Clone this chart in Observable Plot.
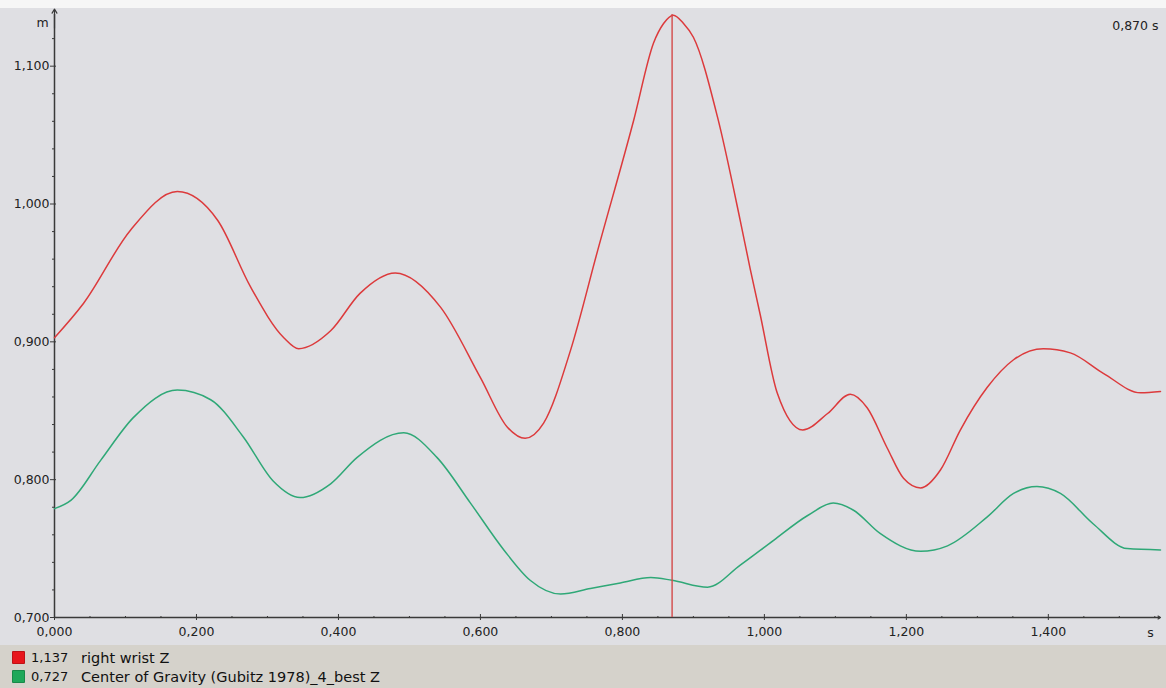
<!DOCTYPE html>
<html>
<head>
<meta charset="utf-8">
<script src="https://cdn.jsdelivr.net/npm/d3@7"></script>
<script src="https://cdn.jsdelivr.net/npm/@observablehq/plot@0.6"></script>
<style>
  html, body { margin: 0; padding: 0; background: #f4f4f4; }
  body { width: 1166px; height: 688px; overflow: hidden; font-family: "DejaVu Sans", sans-serif; }
  #top { height: 8px; background: #f6f6f6; }
  #chart svg { display: block; }
  #legend { height: 43px; background: #d5d2cb; font-family: "DejaVu Sans", sans-serif; color: #111; padding-top: 3px; box-sizing: border-box; }
  .row { height: 19px; display: flex; align-items: center; }
  .sw { width: 13px; height: 13px; margin-left: 12px; margin-right: 6px; border-radius: 1px; box-sizing: border-box; border: 1px solid rgba(0,0,0,0.18); }
  .val { width: 50px; font-size: 13px; }
  .lab { font-size: 14.5px; }
</style>
</head>
<body>
<div id="top"></div>
<div id="chart"></div>
<div id="legend"></div>
<script>
// ---- data ----
const redT = [0, 0.041, 0.107, 0.173, 0.230, 0.276, 0.323, 0.344, 0.389, 0.430, 0.480, 0.544, 0.600, 0.638, 0.663, 0.689, 0.727, 0.765, 0.816, 0.844, 0.858, 0.872, 0.886, 0.900, 0.934, 0.966, 0.980, 0.994, 1.018, 1.054, 1.089, 1.121, 1.145, 1.173, 1.196, 1.220, 1.248, 1.276, 1.314, 1.351, 1.393, 1.431, 1.478, 1.530, 1.558];
const redV = [0.903, 0.928, 0.981, 1.009, 0.988, 0.940, 0.903, 0.895, 0.908, 0.935, 0.950, 0.925, 0.874, 0.838, 0.830, 0.841, 0.894, 0.966, 1.061, 1.117, 1.131, 1.137, 1.131, 1.121, 1.063, 0.988, 0.953, 0.920, 0.863, 0.836, 0.848, 0.862, 0.852, 0.823, 0.801, 0.794, 0.807, 0.836, 0.867, 0.887, 0.895, 0.892, 0.877, 0.863, 0.864];

const greenT = [0, 0.023, 0.065, 0.111, 0.173, 0.220, 0.266, 0.308, 0.346, 0.389, 0.426, 0.492, 0.539, 0.586, 0.633, 0.670, 0.713, 0.755, 0.797, 0.840, 0.870, 0.920, 0.966, 1.013, 1.061, 1.097, 1.125, 1.163, 1.220, 1.258, 1.314, 1.351, 1.384, 1.417, 1.463, 1.511, 1.558];
const greenV = [0.779, 0.785, 0.814, 0.845, 0.865, 0.858, 0.831, 0.799, 0.787, 0.797, 0.816, 0.834, 0.816, 0.783, 0.749, 0.727, 0.717, 0.721, 0.725, 0.729, 0.727, 0.722, 0.738, 0.756, 0.774, 0.783, 0.778, 0.761, 0.748, 0.752, 0.773, 0.790, 0.795, 0.790, 0.768, 0.750, 0.749];

const seriesNames = ["right wrist Z", "Center of Gravity (Gubitz 1978)_4_best Z"];
const seriesColors = ["#dc3a3c", "#2fa877"];
const legendColors = ["#e8161c", "#1ea85a"];
const cursorT = 0.870;
const cursorValues = [1.137, 0.727];

const yMajor = [0.7, 0.8, 0.9, 1.0, 1.1];
const yMinor = d3.range(0.72, 1.14, 0.02).filter(v => Math.abs(v * 10 - Math.round(v * 10)) > 1e-6);
const xMajor = [0, 0.2, 0.4, 0.6, 0.8, 1.0, 1.2, 1.4];
const xMinor = d3.range(0.05, 1.56, 0.05).filter(v => Math.abs(v * 5 - Math.round(v * 5)) > 1e-6);
const xDomain = [0, 1.558];
const yDomain = [0.7, 1.1375];
const xUnit = "s", yUnit = "m";

// ---- helpers ----
const fmt = v => d3.format(".3f")(v).replace(".", ",");
const red = redT.map((t, i) => ({t, v: redV[i]}));
const green = greenT.map((t, i) => ({t, v: greenV[i]}));
const axisColor = "#3a3a3a";
const fs = 12.5;

const chart = Plot.plot({
  width: 1166,
  height: 637,
  marginLeft: 54,
  marginRight: 6,
  marginTop: 6,
  marginBottom: 28,
  style: {background: "#dfdfe3", fontFamily: "'DejaVu Sans', sans-serif", fontSize: "12.5px", color: "#222"},
  x: {domain: xDomain, axis: null},
  y: {domain: yDomain, axis: null},
  marks: [
    // axes lines
    Plot.ruleY([yDomain[0]], {stroke: axisColor, strokeWidth: 1.5}),
    Plot.ruleX([xDomain[0]], {stroke: axisColor, strokeWidth: 1.5}),
    Plot.arrow([0], {x1: xDomain[1] - 0.012, x2: xDomain[1], y1: yDomain[0], y2: yDomain[0], stroke: axisColor, headLength: 6, strokeWidth: 1.2}),
    Plot.arrow([0], {x1: xDomain[0], x2: xDomain[0], y1: yDomain[1] - 0.01, y2: yDomain[1] + 0.004, stroke: axisColor, headLength: 6, strokeWidth: 1.2}),
    // minor ticks
    Plot.axisY({ticks: yMinor, tickSize: 2, tickFormat: () => "", label: null, stroke: axisColor}),
    Plot.axisX({ticks: xMinor, tickSize: 2, dy: -1, tickFormat: () => "", label: null, stroke: axisColor}),
    // major ticks
    Plot.axisY({ticks: yMajor, tickSize: 6, dx: 2, tickPadding: 1, tickFormat: fmt, label: null, stroke: axisColor, fill: "#222", fontSize: fs}),
    Plot.axisX({ticks: xMajor, tickSize: 6, dy: -3, tickPadding: 7, tickFormat: fmt, label: null, stroke: axisColor, fill: "#222", fontSize: fs}),
    // unit labels
    Plot.text([yUnit], {x: xDomain[0], y: yDomain[1], text: d => d, dx: -12, dy: 8, fill: "#222", fontSize: fs}),
    Plot.text([xUnit], {x: xDomain[1], y: yDomain[0], text: d => d, dx: -10, dy: 15, fill: "#222", fontSize: fs}),
    // data lines
    Plot.line(green, {x: "t", y: "v", stroke: seriesColors[1], strokeWidth: 1.5, curve: "monotone-x"}),
    Plot.line(red, {x: "t", y: "v", stroke: seriesColors[0], strokeWidth: 1.5, curve: "monotone-x"}),
    // cursor
    Plot.ruleX([cursorT], {y1: yDomain[0], y2: yDomain[1], stroke: "#d44a4a", strokeWidth: 1.4}),
    Plot.text([cursorT], {x: xDomain[1], y: yDomain[1], text: d => fmt(d) + " s", textAnchor: "end", dx: -2, dy: 11, fill: "#222", fontSize: fs})
  ]
});
document.getElementById("chart").appendChild(chart);

// ---- legend ----
const legend = document.getElementById("legend");
seriesNames.forEach((name, i) => {
  const row = document.createElement("div");
  row.className = "row";
  const sw = document.createElement("div");
  sw.className = "sw";
  sw.style.background = legendColors[i];
  const val = document.createElement("span");
  val.className = "val";
  val.textContent = fmt(cursorValues[i]);
  const lab = document.createElement("span");
  lab.className = "lab";
  lab.textContent = name;
  row.append(sw, val, lab);
  legend.appendChild(row);
});
</script>
</body>
</html>
